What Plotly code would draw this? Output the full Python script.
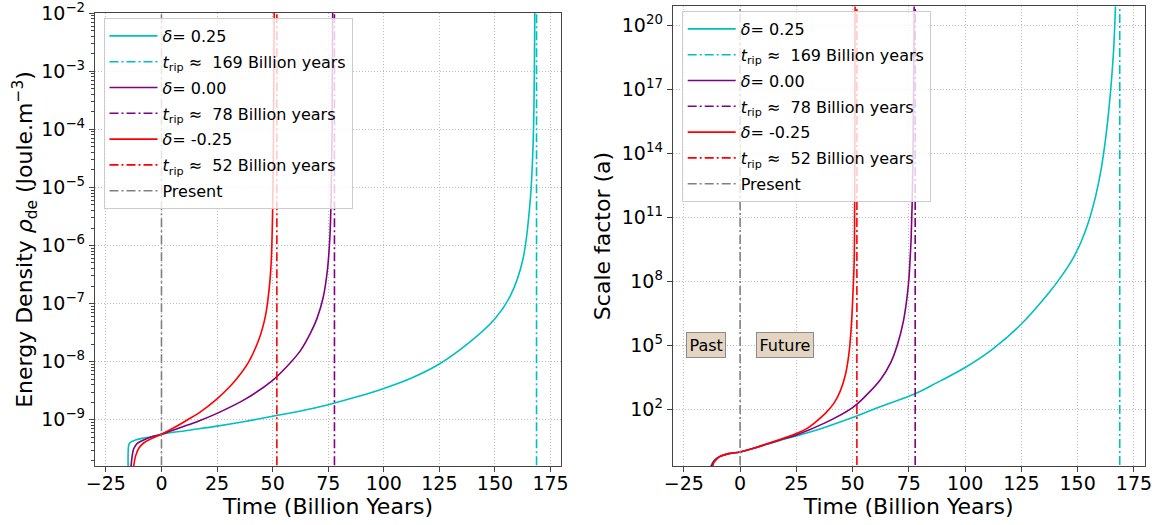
import plotly.graph_objects as go

# ---------------- data (log10 values) ----------------
# Left panel: dark-energy density rho_de [J m^-3], stored as log10(rho)
RHO_T_C = [-15.0, -14.95, -14.6, -13.7, -11.7, -8.7, -4.2, 0.0, 12.5, 25.0, 37.5, 50.0, 62.5, 75.0,
           87.5, 100.0, 112.5, 125.0, 137.5, 150.0, 157.0, 162.5, 165.8, 167.2, 167.9]
RHO_LOG_C = [-9.80, -9.52, -9.42, -9.38, -9.35, -9.32, -9.29, -9.25, -9.18, -9.11, -9.03, -8.94, -8.85,
             -8.74, -8.61, -8.46, -8.28, -8.04, -7.70, -7.26, -6.86, -6.25, -5.25, -4.20, -2.00]

RHO_T_P = [-13.7, -13.2, -12.5, -11.0, -8.7, -5.0, 0.0, 8.0, 16.8, 25.0, 37.5, 50.0, 56.0, 62.5,
           67.0, 70.0, 72.7, 74.7, 75.75, 76.3, 76.7, 77.0]
RHO_LOG_P = [-9.80, -9.63, -9.50, -9.41, -9.36, -9.30, -9.25, -9.14, -9.02, -8.89, -8.65, -8.32, -8.10,
             -7.81, -7.51, -7.25, -6.90, -6.40, -5.85, -5.21, -4.10, -2.00]

RHO_T_R = [-12.5, -11.7, -10.2, -8.0, -4.2, 0.0, 6.0, 11.8, 18.0, 25.0, 31.0, 35.0, 39.3, 43.8,
           46.0, 47.2, 48.8, 49.4, 50.0, 50.4, 50.7]
RHO_LOG_R = [-9.80, -9.63, -9.49, -9.40, -9.32, -9.25, -9.13, -9.00, -8.85, -8.64, -8.42, -8.24, -8.00,
             -7.62, -7.34, -7.12, -6.60, -6.25, -5.40, -4.20, -2.00]

# Right panel: scale factor a, stored as log10(a)
A_T_C = [-13.2, -12.0, -11.0, -9.0, -5.0, 0.0, 6.0, 12.0, 18.0, 25.0, 37.5, 50.0, 62.5, 78.0, 87.5,
         100.0, 112.5, 125.0, 137.5, 142.5, 147.5, 151.5, 155.0, 158.0, 160.5, 162.3, 163.8, 165.0,
         166.0, 166.8]
A_LOG_C = [-0.70, -0.47, -0.35, -0.21, -0.08, 0.00, 0.17, 0.36, 0.55, 0.75, 1.15, 1.61, 2.13, 2.74, 3.25,
           3.96, 4.85, 6.00, 7.50, 8.20, 9.00, 9.85, 10.85, 12.0, 13.3, 14.6, 16.0, 17.4,
           18.9, 20.9]

A_T_P = [-12.8, -12.0, -11.0, -9.0, -5.0, 0.0, 6.0, 12.0, 18.0, 25.0, 37.5, 50.0, 56.0, 62.5, 67.0,
         70.0, 72.5, 74.0, 75.0, 75.5, 76.0, 76.5, 76.9, 77.15, 77.35]
A_LOG_P = [-0.70, -0.50, -0.36, -0.21, -0.08, 0.00, 0.17, 0.37, 0.57, 0.80, 1.35, 2.08, 2.65, 3.41, 4.20,
           5.06, 6.10, 7.10, 8.10, 8.97, 10.0, 11.8, 14.5, 17.5, 20.9]

A_T_R = [-12.3, -11.5, -10.5, -9.0, -5.0, 0.0, 6.0, 12.0, 18.0, 25.0, 30.0, 33.5, 38.0, 41.8, 44.5,
         46.8, 48.3, 49.3, 50.1, 50.7, 50.9, 51.0, 51.1]
A_LOG_R = [-0.70, -0.48, -0.35, -0.22, -0.08, 0.00, 0.17, 0.38, 0.60, 0.86, 1.12, 1.40, 1.82, 2.30, 2.85,
           3.62, 4.55, 5.70, 7.30, 8.97, 11.5, 14.5, 20.9]

DELTA_LABELS = ["0.25", "0.00", "-0.25"]
COLORS = ["#00bfbf", "#800080", "#ff0000"]
TRIP_T = [168.7, 77.8, 51.9]
TRIP_LABELS = ["169", "78", "52"]
PRESENT_T = 0.0

X_TICKS = [-25, 0, 25, 50, 75, 100, 125, 150, 175]
X_RANGE = [-29.9, 179.7]
RHO_TICK_EXP = [-9, -8, -7, -6, -5, -4, -3, -2]
RHO_RANGE = [-9.796, -1.998]
A_TICK_EXP = [2, 5, 8, 11, 14, 17, 20]
A_RANGE = [-0.66, 20.92]

# ---------------- figure ----------------
W, H = 1166, 525
FONT = "DejaVu Sans"
fig = go.Figure()

rho_sets = [(RHO_T_C, RHO_LOG_C), (RHO_T_P, RHO_LOG_P), (RHO_T_R, RHO_LOG_R)]
a_sets = [(A_T_C, A_LOG_C), (A_T_P, A_LOG_P), (A_T_R, A_LOG_R)]

DASH = "9px,3px,2px,3px"


def add_panel(sets, xa, ya, legend, vrange, tag):
    k = 0
    for (t, lg), col, dl, tt, tl in zip(sets, COLORS, DELTA_LABELS, TRIP_T, TRIP_LABELS):
        fig.add_trace(go.Scatter(
            x=t, y=[10 ** v for v in lg], mode="lines",
            line=dict(color=col, width=1.6, shape="spline", smoothing=1.0),
            name="<i>δ</i>= " + dl, xaxis=xa, yaxis=ya, legend=legend,
            legendgroup=tag + str(k)))
        k += 1
        fig.add_trace(go.Scatter(
            x=[tt, tt], y=vrange, mode="lines",
            line=dict(color=col, width=1.6, dash=DASH),
            name="<i>t</i><sub>rip</sub> ≈  " + tl + " Billion years",
            xaxis=xa, yaxis=ya, legend=legend, legendgroup=tag + str(k)))
        k += 1
    fig.add_trace(go.Scatter(
        x=[PRESENT_T, PRESENT_T], y=vrange, mode="lines",
        line=dict(color="#808080", width=1.6, dash=DASH),
        name="Present", xaxis=xa, yaxis=ya, legend=legend, legendgroup=tag + str(k)))


add_panel(rho_sets, "x", "y", "legend", [1e-13, 1e1], "L")
add_panel(a_sets, "x2", "y2", "legend2", [1e-3, 1e25], "R")

axis_common = dict(
    showline=True, mirror=True, linecolor="#444444", linewidth=1.3,
    ticks="outside", ticklen=5, tickcolor="#444444", tickwidth=1.2,
    showgrid=True, gridcolor="#bdbdbd", griddash="1px,2px", gridwidth=1,
    zeroline=False, automargin=False, ticklabeloverflow="allow",
    tickfont=dict(family=FONT, size=19, color="black"),
)

xcommon = dict(axis_common, range=X_RANGE, tickmode="array", tickvals=X_TICKS,
               ticktext=[("−" + str(-v)) if v < 0 else str(v) for v in X_TICKS],
               ticklabelstandoff=-5)

minor_vals = [k * 10.0 ** e for e in range(-10, -2) for k in range(2, 10)]

legend_common = dict(xanchor="left", yanchor="top",
                     bgcolor="rgba(255,255,255,0.8)", bordercolor="#cccccc", borderwidth=1,
                     font=dict(family=FONT, size=16, color="black"),
                     tracegroupgap=2, itemwidth=48, traceorder="grouped")

fig.update_layout(
    width=W, height=H,
    margin=dict(l=0, r=0, t=0, b=0),
    paper_bgcolor="white", plot_bgcolor="white",
    font=dict(family=FONT, color="black"),
    xaxis=dict(xcommon, domain=[95 / W, 561 / W], anchor="y",
               title=dict(text="Time (Billion Years)", font=dict(family=FONT, size=22), standoff=2)),
    yaxis=dict(axis_common, domain=[1 - 466 / H, 1 - 13 / H], anchor="x", type="log",
               range=RHO_RANGE, tickmode="array",
               tickvals=[10.0 ** e for e in RHO_TICK_EXP],
               ticktext=["10<sup>−%d</sup>" % (-e) for e in RHO_TICK_EXP],
               minor=dict(tickmode="array", tickvals=minor_vals, ticks="outside", ticklen=2.5,
                          tickcolor="#444444", showgrid=False),
               title=dict(text="Energy Density <i>ρ</i><sub>de</sub> (Joule.m<sup>−3</sup>)",
                          font=dict(family=FONT, size=22), standoff=2)),
    xaxis2=dict(xcommon, domain=[672.8 / W, 1144.5 / W], anchor="y2",
                title=dict(text="Time (Billion Years)", font=dict(family=FONT, size=22), standoff=2)),
    yaxis2=dict(axis_common, domain=[1 - 466 / H, 1 - 6 / H], anchor="x2", type="log",
                range=A_RANGE, tickmode="array",
                tickvals=[10.0 ** e for e in A_TICK_EXP],
                ticktext=["10<sup>%d</sup>" % e for e in A_TICK_EXP],
                title=dict(text="Scale factor (a)", font=dict(family=FONT, size=22), standoff=5)),
    legend=dict(legend_common, x=103.5 / W, y=1 - 18 / H),
    legend2=dict(legend_common, x=681.7 / W, y=1 - 11 / H),
    showlegend=True,
)

box = dict(font=dict(family=FONT, size=16, color="black"), bgcolor="#e3d5c2",
           bordercolor="#8c8c8c", borderwidth=1, borderpad=2.5, showarrow=False,
           xref="x2", yref="y2")
fig.add_annotation(box, x=-15, y=5, text="Past")
fig.add_annotation(box, x=20, y=5, text="Future")

# remove the browser's default 8px body margin so the figure sits at the page origin
fig.write_html("out.html", config={"displayModeBar": False},
               post_script="document.body.style.margin='0';")
